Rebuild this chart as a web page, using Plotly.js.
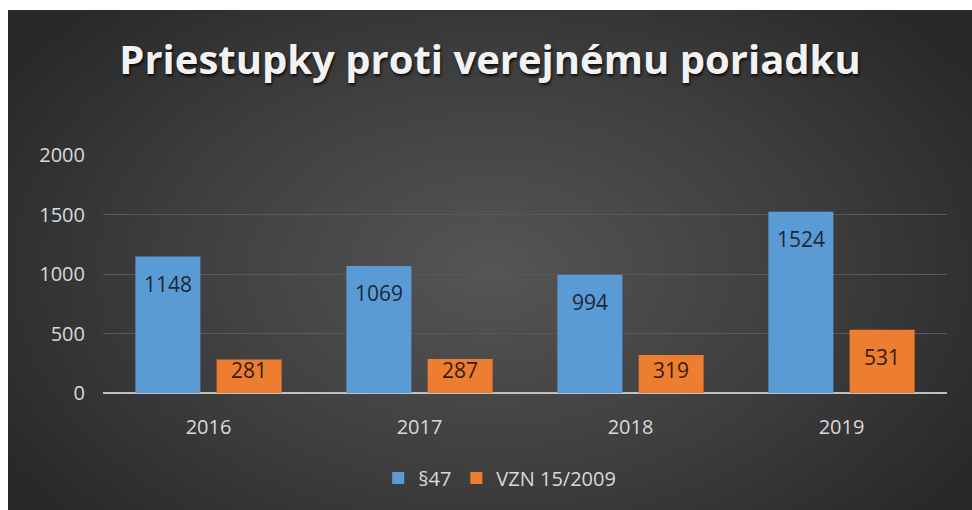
<!DOCTYPE html>
<html>
<head>
<meta charset="utf-8">
<script src="https://cdn.plot.ly/plotly-3.0.1.min.js"></script>
<style>
  html, body { margin: 0; padding: 0; background: #ffffff; width: 972px; height: 510px; overflow: hidden; }
  #chart {
    position: absolute; left: 8px; top: 10px; width: 964px; height: 500px;
    background: radial-gradient(ellipse 60% 75% at 50% 52%, #555555 0%, #3e3e3e 55%, #282828 100%);
  }
</style>
</head>
<body>
<div id="chart"></div>
<script>
const categories = ['2016', '2017', '2018', '2019'];
const seriesNames = ['§47', 'VZN 15/2009'];
const valuesP47 = [1148, 1069, 994, 1524];
const valuesVZN = [281, 287, 319, 531];
const yTicks = [0, 500, 1000, 1500, 2000];
const chartTitle = 'Priestupky proti verejnému poriadku';

const blue = '#5b9bd5';
const orange = '#ed7d31';
const font = 'Open Sans, Noto Sans, sans-serif';

// label placement, in axis units: inside the bar end, kept above a floor for short bars
const labelDrop = 230;
const labelFloor = 195;

const traces = [
  { type: 'bar', name: seriesNames[0], x: categories, y: valuesP47,
    marker: { color: blue }, hoverinfo: 'x+y' },
  { type: 'bar', name: seriesNames[1], x: categories, y: valuesVZN,
    marker: { color: orange }, hoverinfo: 'x+y' }
];

const annotations = [];
categories.forEach((c, i) => {
  annotations.push({ x: i, y: Math.max(valuesP47[i] - labelDrop, labelFloor), xref: 'x', yref: 'y',
    text: String(valuesP47[i]), showarrow: false, xshift: -40.5,
    font: { family: font, size: 21, color: '#1b2838' } });
  annotations.push({ x: i, y: Math.max(valuesVZN[i] - labelDrop, labelFloor), xref: 'x', yref: 'y',
    text: String(valuesVZN[i]), showarrow: false, xshift: 40.5,
    font: { family: font, size: 21, color: '#3a1c0a' } });
});

const layout = {
  width: 964, height: 500,
  paper_bgcolor: 'rgba(0,0,0,0)', plot_bgcolor: 'rgba(0,0,0,0)',
  margin: { l: 95, r: 25, t: 145, b: 117 },
  title: { text: chartTitle, x: 0.5, xanchor: 'center', y: 0.9, yanchor: 'middle',
    font: { family: font, size: 40, weight: 'bold', color: '#f2f2f2', shadow: '1px 2px 3px rgba(0,0,0,0.85)' } },
  barmode: 'group', bargap: 0.23, bargroupgap: 0.2,
  xaxis: { type: 'category', range: [-0.5, 3.5], showgrid: false, zeroline: false, showline: false,
    ticks: '', ticklabelstandoff: 20, tickfont: { family: font, size: 20, color: '#d9d9d9' } },
  yaxis: { range: [0, 2002], tickvals: yTicks, ticktext: yTicks.map(String),
    showgrid: true, gridcolor: '#595959', gridwidth: 1,
    zeroline: true, zerolinecolor: '#bfbfbf', zerolinewidth: 2,
    showline: false, ticks: '', ticklabelstandoff: 17,
    tickfont: { family: font, size: 20, color: '#d9d9d9' } },
  legend: { orientation: 'h', x: 0.47, xanchor: 'center', y: -0.357, yanchor: 'middle',
    font: { family: font, size: 20, color: '#d9d9d9' }, itemwidth: 30, bgcolor: 'rgba(0,0,0,0)' },
  annotations: annotations,
  showlegend: true
};

Plotly.newPlot('chart', traces, layout, { displayModeBar: false, staticPlot: true });
</script>
</body>
</html>
